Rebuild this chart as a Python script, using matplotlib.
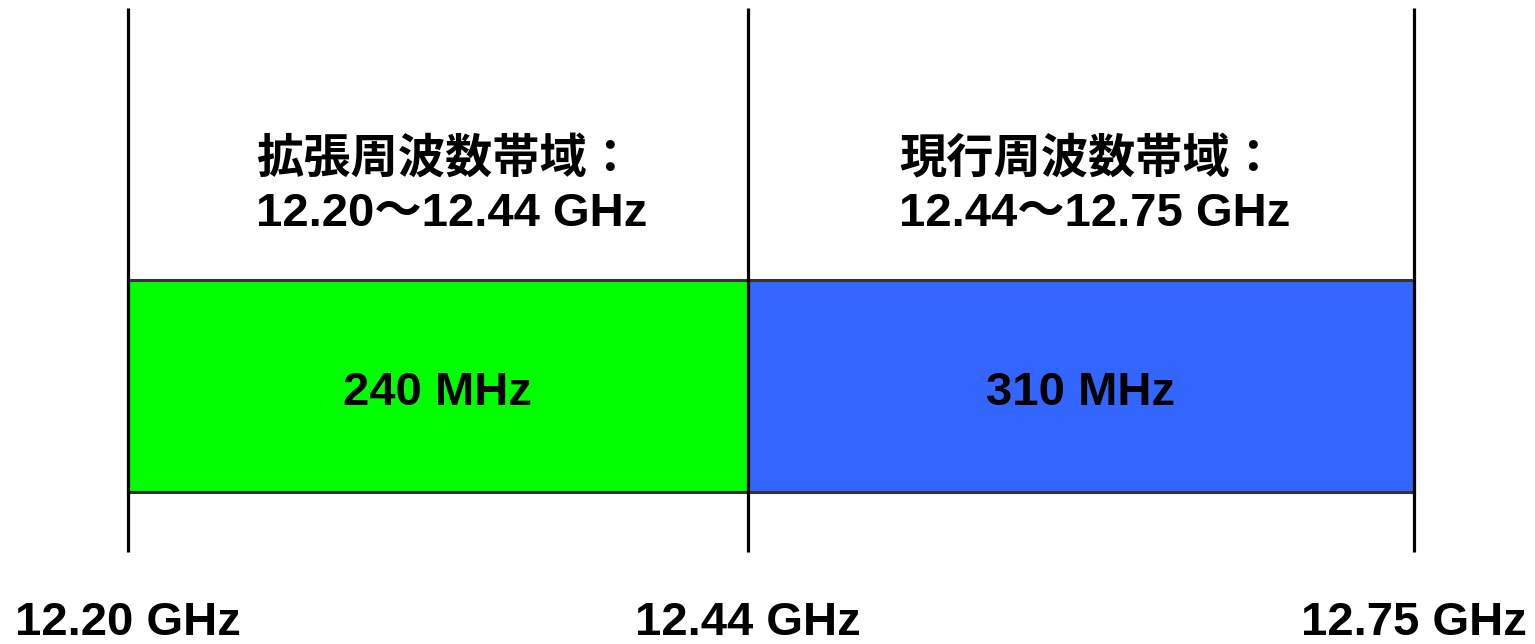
import numpy as np
import matplotlib
matplotlib.use("Agg")
import matplotlib.pyplot as plt
import matplotlib.transforms as mtransforms

# band edges (GHz) and band data
edges_ghz = [12.20, 12.44, 12.75]
band_start = [12.20, 12.44]
band_width_mhz = [240, 310]
band_names = ["拡張周波数帯域：", "現行周波数帯域："]
band_colors = ["#00ff00", "#3366ff"]
edge_labels = ["12.20 GHz", "12.44 GHz", "12.75 GHz"]

plt.rcParams['font.family'] = ['Liberation Sans', 'Noto Sans CJK JP', 'DejaVu Sans']
plt.rcParams['font.weight'] = 'bold'

# the picture is schematic: each band gets its own length on screen,
# so map GHz -> screen pixels piecewise
edge_px = [128, 748, 1414]
W, H = 1535, 644
slope_l = (edge_px[1] - edge_px[0]) / (edges_ghz[1] - edges_ghz[0])
slope_r = (edge_px[2] - edge_px[1]) / (edges_ghz[2] - edges_ghz[1])
x_lo = edges_ghz[0] - edge_px[0] / slope_l
x_hi = edges_ghz[2] + (W - edge_px[2]) / slope_r
xp = [x_lo - 1, x_lo] + edges_ghz + [x_hi, x_hi + 1]
fp = [-slope_l, 0] + edge_px + [W, W + slope_r]

def fwd(x):
    return np.interp(x, xp, fp)

def inv(p):
    return np.interp(p, fp, xp)

fig = plt.figure(figsize=(W / 100, H / 100), dpi=100)
ax = fig.add_axes([0, 0, 1, 1])
ax.set_xscale('function', functions=(fwd, inv))
ax.set_xlim(x_lo, x_hi)
# bar spans y 0..1 (pixel rows 492..280)
bar_px = 212
ax.set_ylim(-(H - 492) / bar_px, 492 / bar_px)
ax.axis('off')

widths_ghz = [w / 1000 for w in band_width_mhz]
ax.bar(band_start, [1, 1], width=widths_ghz, bottom=0, align='edge',
       color=band_colors, edgecolor='#333333', linewidth=2.2, zorder=2)

# boundary lines
ax.vlines(edges_ghz, -0.283, 2.283, colors='black', linewidth=2.3, zorder=3)

shift = mtransforms.offset_copy(ax.transData, fig=fig, x=10, y=0, units='points')
for s, w, name in zip(band_start, widths_ghz, band_names):
    mid = s + w / 2
    ax.text(mid, 0.465, f"{int(round(w * 1000))} MHz", ha='center', va='center',
            fontsize=34, fontweight='bold', zorder=4)
    rng = f"{s:.2f}〜{s + w:.2f} GHz"
    ax.text(mid, 1.44, name + "\n" + rng, ha='center', va='center',
            multialignment='left', fontsize=34, fontweight='bold',
            linespacing=1.28, transform=shift)

for e, lab in zip(edges_ghz, edge_labels):
    ax.text(e, -0.62, lab, ha='center', va='center', fontsize=34, fontweight='bold')

fig.savefig("out.png", dpi=100, facecolor='white')
